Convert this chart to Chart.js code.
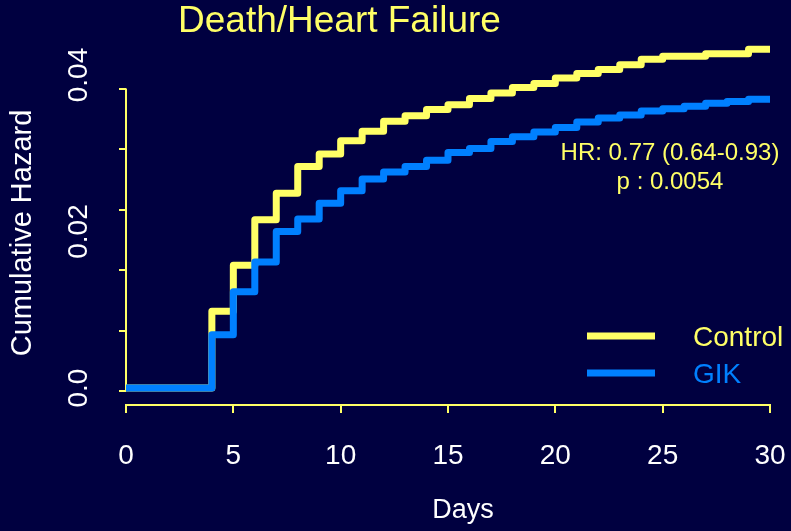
<!DOCTYPE html>
<html>
<head>
<meta charset="utf-8">
<title>Death/Heart Failure</title>
<script src="https://cdn.jsdelivr.net/npm/chart.js"></script>
<style>
  html, body { margin: 0; padding: 0; background: #000040; }
  #wrap { width: 791px; height: 531px; position: relative; }
</style>
</head>
<body>
<div id="wrap"><canvas id="hazard-chart"></canvas></div>
<script>
// step times (days) and cumulative hazard
const days = [0, 4, 5, 6, 7, 8, 9, 10, 11, 12, 13, 14, 15, 16, 17, 18, 19, 20,
              21, 22, 23, 24, 25, 26, 27, 28, 29, 30];
const controlHazard = [0, 0.0098, 0.0157, 0.0215, 0.0249, 0.0283, 0.0299, 0.0316, 0.0328,
                       0.0341, 0.0348, 0.0356, 0.0362, 0.0370, 0.0377, 0.0384, 0.0389, 0.0396,
                       0.0402, 0.0407, 0.0413, 0.0420, 0.0424, 0.0424, 0.0427, 0.0427, 0.0433, 0.0433];
const gikHazard = [0, 0.0068, 0.0123, 0.0161, 0.0200, 0.0216, 0.0236, 0.0252, 0.0267,
                   0.0276, 0.0283, 0.0291, 0.0301, 0.0306, 0.0315, 0.0321, 0.0327, 0.0333,
                   0.0340, 0.0345, 0.0349, 0.0354, 0.0357, 0.0360, 0.0364, 0.0366, 0.0369, 0.0369];
const seriesNames = ['Control', 'GIK'];
const xTicks = [0, 5, 10, 15, 20, 25, 30];
const yLabelTicks = [0, 0.02, 0.04];
const yMarkTicks = [0, 0.01, 0.02, 0.03, 0.04, 0.05];
const statLines = ['HR: 0.77 (0.64-0.93)', 'p : 0.0054'];

const yellow = '#ffff66';
const blue = '#0080ff';
const family = '"Liberation Sans", Arial, sans-serif';

const toPoints = vals => days.map((d, i) => ({ x: d, y: vals[i] }));

const slidePlugin = {
    id: 'slide',
    beforeDraw(chart) {
        const c = chart.ctx;
        c.save();
        c.fillStyle = '#000040';
        c.fillRect(0, 0, chart.width, chart.height);
        c.restore();
    },
    beforeDatasetsDraw(chart) {
        // R style y axis line, only over the tick range
        const c = chart.ctx, s = chart.scales.yt, x = chart.chartArea.left;
        c.save();
        c.strokeStyle = yellow;
        c.lineWidth = 2;
        c.beginPath();
        c.moveTo(x, s.getPixelForValue(yMarkTicks[0]));
        c.lineTo(x, s.getPixelForValue(yMarkTicks[yMarkTicks.length - 1]));
        c.stroke();
        c.restore();
    },
    afterDraw(chart) {
        const c = chart.ctx, a = chart.chartArea;
        c.save();
        c.textBaseline = 'middle';

        c.fillStyle = yellow;
        c.font = '37px ' + family;
        c.textAlign = 'left';
        c.fillText('Death/Heart Failure', 178, 22);

        // axis titles, placed like the slide (a bit off centre)
        c.fillStyle = '#ffffff';
        c.textAlign = 'center';
        c.font = '27px ' + family;
        c.fillText('Days', a.left + 337, a.bottom + 106);
        c.save();
        c.font = '29px ' + family;
        c.translate(23, 233);
        c.rotate(-Math.PI / 2);
        c.fillText('Cumulative Hazard', 0, 0);
        c.restore();

        c.fillStyle = yellow;
        c.font = '24px ' + family;
        statLines.forEach((t, i) => c.fillText(t, a.right - 100, a.top + 113 + i * 29));

        // legend
        const colors = [yellow, blue];
        c.font = '28px ' + family;
        c.textAlign = 'left';
        c.lineWidth = 7;
        seriesNames.forEach((name, i) => {
            const y = a.bottom - 69 + i * 37;
            c.strokeStyle = colors[i];
            c.beginPath();
            c.moveTo(a.right - 183, y);
            c.lineTo(a.right - 115, y);
            c.stroke();
            c.fillStyle = colors[i];
            c.fillText(name, a.right - 77, y + 2);
        });
        c.restore();
    }
};

new Chart(document.getElementById('hazard-chart'), {
    type: 'line',
    data: {
        datasets: [
            {
                label: seriesNames[0],
                data: toPoints(controlHazard),
                borderColor: yellow,
                borderWidth: 7,
                stepped: true,
                pointRadius: 0,
                borderCapStyle: 'round',
                borderJoinStyle: 'round',
                order: 1
            },
            {
                label: seriesNames[1],
                data: toPoints(gikHazard),
                borderColor: blue,
                borderWidth: 7,
                stepped: true,
                pointRadius: 0,
                borderCapStyle: 'round',
                borderJoinStyle: 'round',
                order: 0
            }
        ]
    },
    options: {
        responsive: true,
        maintainAspectRatio: false,
        animation: false,
        layout: { padding: { top: 40, right: 21, left: 0, bottom: 0 } },
        plugins: {
            legend: { display: false },
            tooltip: { enabled: false }
        },
        scales: {
            x: {
                type: 'linear',
                min: 0,
                max: 30,
                afterBuildTicks: s => { s.ticks = xTicks.map(v => ({ value: v })); },
                afterFit: s => { s.height = 126; },
                border: { color: yellow, width: 2 },
                grid: { drawOnChartArea: false, color: yellow, lineWidth: 2, tickLength: 8 },
                // tall line height pushes the labels down without widening the side padding
                ticks: { color: '#ffffff', font: { family: family, size: 28, lineHeight: 2.84 }, padding: 4, maxRotation: 0 }
            },
            y: {
                position: 'left',
                weight: 1,
                min: -0.00217,
                max: 0.04447,
                afterBuildTicks: s => { s.ticks = yLabelTicks.map(v => ({ value: v })); },
                afterFit: s => { s.width = 119; },
                border: { display: false },
                grid: { display: false, drawTicks: false },
                ticks: {
                    color: '#ffffff',
                    font: { family: family, size: 28 },
                    minRotation: 90,
                    maxRotation: 90,
                    crossAlign: 'center',
                    padding: 12,
                    callback: v => v === 0 ? '0.0' : v.toFixed(2)
                }
            },
            yt: {
                position: 'left',
                weight: 0,
                min: -0.002314,
                max: 0.058017,
                afterBuildTicks: s => { s.ticks = yMarkTicks.map(v => ({ value: v })); },
                afterFit: s => { s.width = 7; },
                border: { display: false },
                grid: { drawOnChartArea: false, color: yellow, lineWidth: 2, tickLength: 7 },
                ticks: { display: false }
            }
        }
    },
    plugins: [slidePlugin]
});
</script>
</body>
</html>
